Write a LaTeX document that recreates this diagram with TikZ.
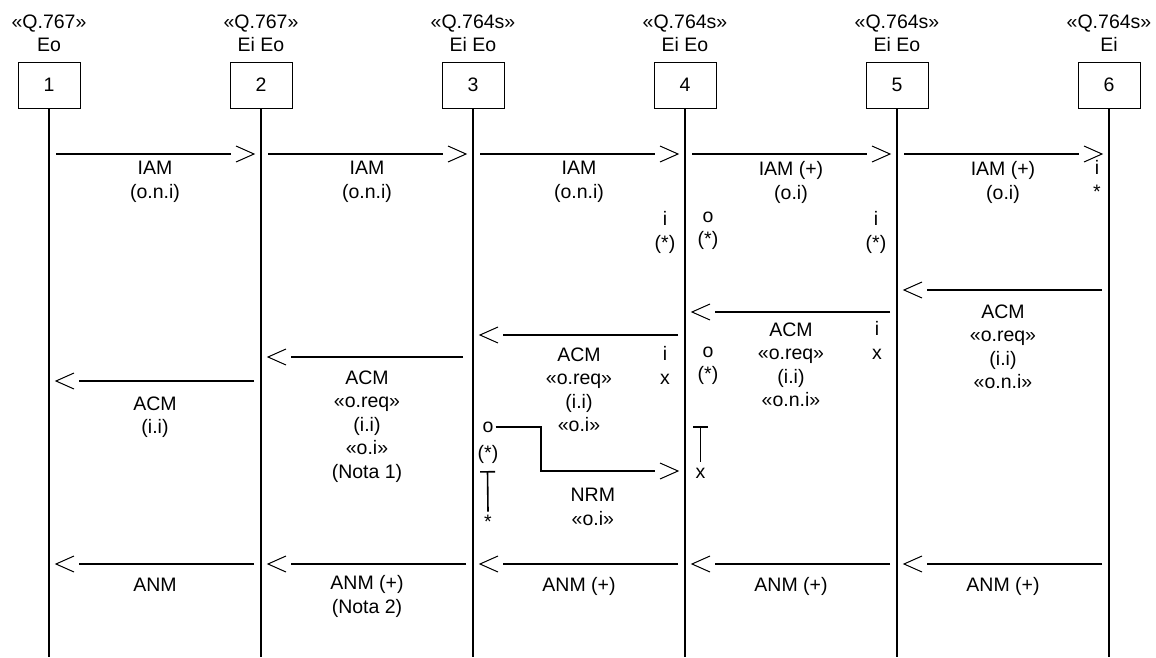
\documentclass[tikz,border=0pt]{standalone}
\usepackage{fontspec}
\setmainfont{Liberation Sans}
\usepackage{tikz}
\usetikzlibrary{positioning, arrows.meta}
\newcommand{\seqfont}{\fontsize{19.5}{23.5}\selectfont}

\begin{document}
\begin{tikzpicture}[x=1pt, y=-1pt,
    box/.style={draw, line width=1pt, minimum width=62pt, minimum height=46pt,
      inner sep=0pt, font=\seqfont},
    hdr/.style={font=\seqfont, align=center, inner sep=0pt,
      execute at begin node=\strut},
    lbl/.style={font=\seqfont, align=center, inner sep=0pt, anchor=north,
      execute at begin node=\strut},
    mk/.style={font=\seqfont, inner sep=0pt},
    life/.style={line width=1.9pt},
    msg/.style={line width=1.9pt, shorten <=7pt, shorten >=30pt},
    tbar/.style={line width=1.6pt, -{Bar[width=15pt, line width=1.6pt]}},
    chevR/.pic={\draw[line width=1pt, shorten <=0pt, shorten >=0pt]
      (-25,-8) -- (-7,0) -- (-25,8);},
    chevL/.pic={\draw[line width=1pt, shorten <=0pt, shorten >=0pt]
      (25,-8) -- (7,0) -- (25,8);}]
  \useasboundingbox (0,0) rectangle (1156,657);
  % Rows
  \coordinate (iam)   at (0,154);
  \coordinate (acm65) at (0,290);
  \coordinate (acm54) at (0,312);
  \coordinate (acm43) at (0,335);
  \coordinate (acm32) at (0,357);
  \coordinate (acm21) at (0,381);
  \coordinate (nrm)   at (541,471);
  \coordinate (anm)   at (0,564);
  \coordinate (bot)   at (0,657);
  % Exchanges and lifelines
  \foreach \i in {1,...,6}
    \node[box] (b\i) at ({49+212*(\i-1)},85) {\i};
  \foreach \i/\q/\e in {1/«Q.767»/Eo, 2/«Q.767»/Ei Eo, 3/«Q.764s»/Ei Eo,
      4/«Q.764s»/Ei Eo, 5/«Q.764s»/Ei Eo, 6/«Q.764s»/Ei}
    \node[hdr, above=2.5pt of b\i] (h\i) {\q\\\e};
  \foreach \i in {1,...,6}
    \draw[life] (b\i.south) -- (b\i.south |- bot);
  % IAM
  \draw[msg] (b1 |- iam) -- (b2 |- iam)
    node[lbl, midway, below=6.5pt] {IAM\\(o.n.i)} pic[pos=1] {chevR};
  \draw[msg] (b2 |- iam) -- (b3 |- iam)
    node[lbl, midway, below=6.5pt] {IAM\\(o.n.i)} pic[pos=1] {chevR};
  \draw[msg] (b3 |- iam) -- (b4 |- iam)
    node[lbl, midway, below=6.5pt] {IAM\\(o.n.i)} pic[pos=1] {chevR};
  \draw[msg] (b4 |- iam) -- (b5 |- iam)
    node[lbl, midway, below=6.5pt] {IAM (+)\\(o.i)} pic[pos=1] {chevR};
  \draw[msg] (b5 |- iam) -- (b6 |- iam)
    node[lbl, midway, below=6.5pt] {IAM (+)\\(o.i)} pic[pos=1] {chevR};
  % ACM
  \draw[msg] (b6 |- acm65) -- (b5 |- acm65)
    node[lbl, midway, below=13.5pt] {ACM\\«o.req»\\(i.i)\\«o.n.i»} pic[pos=1] {chevL};
  \draw[msg] (b5 |- acm54) -- (b4 |- acm54)
    node[lbl, midway, below=9.5pt] {ACM\\«o.req»\\(i.i)\\«o.n.i»} pic[pos=1] {chevL};
  \draw[msg] (b4 |- acm43) -- (b3 |- acm43)
    node[lbl, midway, below=11.5pt] {ACM\\«o.req»\\(i.i)\\«o.i»} pic[pos=1] {chevL};
  \draw[msg, shorten <=10pt] (b3 |- acm32) -- (b2 |- acm32)
    node[lbl, midway, below=12.5pt] {ACM\\«o.req»\\(i.i)\\«o.i»\\(Nota 1)} pic[pos=1] {chevL};
  \draw[msg] (b2 |- acm21) -- (b1 |- acm21)
    node[lbl, midway, below=14.5pt] {ACM\\(i.i)} pic[pos=1] {chevL};
  % Markers
  \node[lbl] (m6)  at (1097,160.5) {i\\*};
  \node[lbl] (m4a) at (665,211.5) {i\\(*)};
  \node[lbl] (m4b) at (708,211.5) {o\\(*)};
  \node[lbl] (m5a) at (876,211.5) {i\\(*)};
  \node[lbl] (m5b) at (877,321.5) {i\\x};
  \node[lbl] (m4c) at (665,346.5) {i\\x};
  \node[lbl] (m4d) at (708,346.5) {o\\(*)};
  % NRM
  \node[mk] (nrmo) at (488,427.3) {o};
  \node[lbl] (nrmp) at (488,442.5) {(*)};
  \node[lbl] (nrms) at (488,511.5) {*};
  \node[lbl] (nrmx) at (700.5,461.5) {x};
  \coordinate (tl) at (487.5,471);
  \coordinate (tr) at (700.5,426);
  \draw[tbar] (nrms.north) -- (tl);
  \draw[tbar] (nrmx.north) -- (tr);
  \draw[msg, shorten <=2pt] (nrmo.east) -| (nrm) -- (b4 |- nrm)
    node[lbl, pos=0.36, below=16.5pt] {NRM\\«o.i»} pic[pos=1] {chevR};
  % ANM
  \draw[msg] (b6 |- anm) -- (b5 |- anm)
    node[lbl, midway, below=10.5pt] {ANM (+)} pic[pos=1] {chevL};
  \draw[msg] (b5 |- anm) -- (b4 |- anm)
    node[lbl, midway, below=10.5pt] {ANM (+)} pic[pos=1] {chevL};
  \draw[msg] (b4 |- anm) -- (b3 |- anm)
    node[lbl, midway, below=10.5pt] {ANM (+)} pic[pos=1] {chevL};
  \draw[msg] (b3 |- anm) -- (b2 |- anm)
    node[lbl, midway, below=10.5pt] {ANM (+)\\(Nota 2)} pic[pos=1] {chevL};
  \draw[msg] (b2 |- anm) -- (b1 |- anm)
    node[lbl, midway, below=10.5pt] {ANM} pic[pos=1] {chevL};
\end{tikzpicture}
\end{document}
